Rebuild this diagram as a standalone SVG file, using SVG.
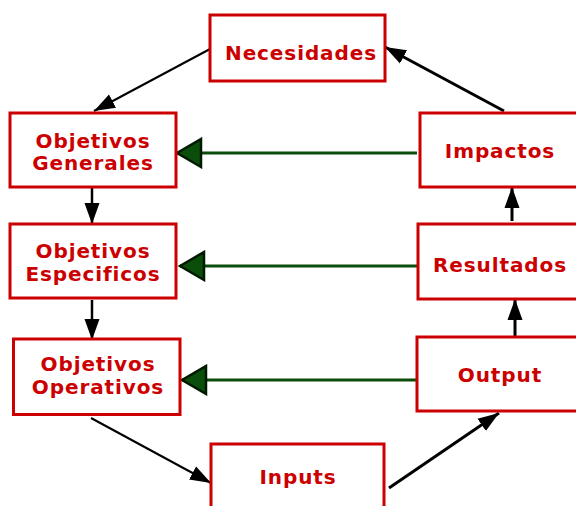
<svg xmlns="http://www.w3.org/2000/svg" width="576" height="506" viewBox="0 0 576 506">
<defs>
<style>
.box{fill:#fff;stroke:#cc0000;stroke-width:3}
.t{font-family:"DejaVu Sans","Verdana",sans-serif;font-weight:bold;font-size:20px;fill:#cc0000;text-anchor:middle;letter-spacing:0.9px}
.k{stroke:#000;fill:none}
.g{stroke:#0b4d0b;stroke-width:3;fill:none}
</style>
<marker id="ah" markerUnits="userSpaceOnUse" markerWidth="22" markerHeight="18" viewBox="0 0 22 18" refX="21" refY="9" orient="auto">
<path d="M0,1.5 L21,9 L0,16.5 z" fill="#000"/>
</marker>
<marker id="gh" markerUnits="userSpaceOnUse" markerWidth="28" markerHeight="32" viewBox="0 0 28 32" refX="26" refY="16" orient="auto">
<path d="M2,2 L26,16 L2,30 z" fill="#0b4d0b" stroke="#001a00" stroke-width="2.5"/>
</marker>
</defs>
<rect width="576" height="506" fill="#fff"/>
<g id="connectors">
<line class="k" stroke-width="2" x1="210" y1="49" x2="94" y2="111" marker-end="url(#ah)"/>
<line class="k" stroke-width="3" x1="504" y1="111" x2="385" y2="47" marker-end="url(#ah)"/>
<line class="k" stroke-width="2.5" x1="92" y1="188" x2="92" y2="224" marker-end="url(#ah)"/>
<line class="k" stroke-width="2.5" x1="92" y1="300" x2="92" y2="340" marker-end="url(#ah)"/>
<line class="k" stroke-width="2" x1="91" y1="418" x2="211" y2="483" marker-end="url(#ah)"/>
<line class="k" stroke-width="3" x1="389" y1="488" x2="499" y2="413" marker-end="url(#ah)"/>
<line class="k" stroke-width="3" x1="515" y1="337" x2="515" y2="299" marker-end="url(#ah)"/>
<line class="k" stroke-width="3" x1="512" y1="221" x2="512" y2="187" marker-end="url(#ah)"/>
<line class="g" x1="417" y1="153" x2="177" y2="153" marker-end="url(#gh)"/>
<line class="g" x1="417" y1="266" x2="180" y2="266" marker-end="url(#gh)"/>
<line class="g" x1="417" y1="380" x2="182" y2="380" marker-end="url(#gh)"/>
</g>
<g id="necesidades"><rect class="box" x="210" y="15" width="175" height="66"/><text class="t" x="301" y="60">Necesidades</text></g>
<g id="obj-generales"><rect class="box" x="10" y="113" width="166" height="74"/><text class="t" x="93" y="148">Objetivos</text><text class="t" x="93" y="170">Generales</text></g>
<g id="obj-especificos"><rect class="box" x="10" y="224" width="166" height="74"/><text class="t" x="93" y="258">Objetivos</text><text class="t" x="93" y="281">Especificos</text></g>
<g id="obj-operativos"><rect class="box" x="13.5" y="339" width="166.5" height="75.5"/><text class="t" x="98" y="371">Objetivos</text><text class="t" x="98" y="394">Operativos</text></g>
<g id="impactos"><rect class="box" x="420" y="113" width="170" height="74"/><text class="t" x="500" y="158">Impactos</text></g>
<g id="resultados"><rect class="box" x="418" y="224" width="170" height="75"/><text class="t" x="500" y="272">Resultados</text></g>
<g id="output"><rect class="box" x="417" y="337" width="170" height="74"/><text class="t" x="500" y="382">Output</text></g>
<g id="inputs"><rect class="box" x="211" y="444" width="173" height="80"/><text class="t" x="298" y="484">Inputs</text></g>
</svg>
